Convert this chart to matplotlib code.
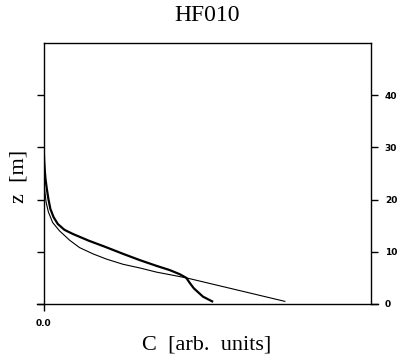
import matplotlib
matplotlib.use("Agg")
import matplotlib.pyplot as plt

# Vertical concentration profiles, C in arbitrary units against height z [m]
z_thick = [31.0, 27.5, 25.5, 24.0, 22.1, 20.1, 18.2, 16.6, 15.3, 14.2, 13.4, 12.1, 11.0,
           9.6, 8.4, 7.3, 6.5, 5.7, 5.0, 4.0, 3.0, 2.2, 1.4, 0.5]
c_thick = [0.0, 0.002, 0.004, 0.006, 0.010, 0.015, 0.021, 0.031, 0.044, 0.064, 0.090, 0.139, 0.186,
           0.243, 0.294, 0.345, 0.385, 0.416, 0.436, 0.447, 0.459, 0.473, 0.487, 0.515]

z_thin = [30.5, 27.0, 24.0, 22.1, 19.5, 17.6, 15.6, 14.0, 12.2, 10.8, 9.6, 8.6, 7.6,
          6.9, 6.1, 5.5, 5.0, 0.5]
c_thin = [0.0, 0.001, 0.002, 0.003, 0.008, 0.015, 0.028, 0.049, 0.080, 0.110, 0.151, 0.192, 0.243,
          0.294, 0.345, 0.395, 0.436, 0.737]

z_ticks = [0, 10, 20, 30, 40]
z_ticklabels = ["0", "10", "20", "30", "40"]
c_ticks = [0.0]
c_ticklabels = ["0.0"]

title = "HF010"
xlabel = "C  [arb.  units]"
ylabel = "z  [m]"

fig = plt.figure(figsize=(3.98, 3.61), dpi=100)
ax = fig.add_axes([0.1093, 0.158, 0.8228, 0.723])

ax.plot(c_thin, z_thin, color="black", lw=0.8, solid_joinstyle="round")
ax.plot(c_thick, z_thick, color="black", lw=1.6, solid_joinstyle="round")

ax.set_xlim(0, 1)
ax.set_ylim(0, 50)

serif = ["Liberation Serif", "DejaVu Serif"]
ax.set_title(title, family=serif, fontsize=17, pad=16)
fig.text(0.52, 0.045, xlabel, family=serif, fontsize=16, ha="center", va="center")
fig.text(0.048, 0.512, ylabel, family=serif, fontsize=16, ha="center", va="center", rotation=90)

for s in ax.spines.values():
    s.set_linewidth(1.0)
ax.spines["bottom"].set_visible(False)
# baseline extending slightly past both side spines
ax.axhline(0, xmin=-0.02, xmax=1.02, color="black", lw=1.0, clip_on=False)

ax.set_xticks(c_ticks)
ax.set_xticklabels(c_ticklabels, family="DejaVu Sans", fontsize=6.5, fontweight="bold")
ax.tick_params(axis="x", direction="out", length=5, width=1.0, pad=6)

ax.set_yticks(z_ticks)
ax.set_yticklabels(z_ticklabels, family="DejaVu Sans", fontsize=6.5, fontweight="bold")
ax.tick_params(axis="y", direction="out", length=5, width=1.0, pad=5,
               left=True, right=True, labelleft=False, labelright=True)

fig.savefig("out.png", dpi=100)
